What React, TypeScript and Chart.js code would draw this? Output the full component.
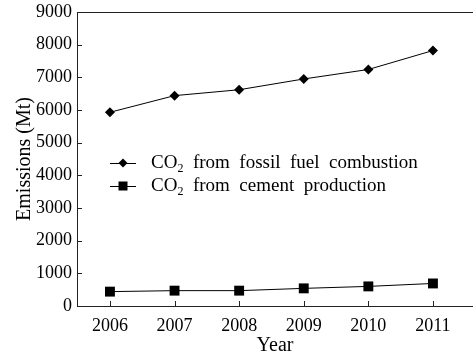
import React, { useEffect, useRef } from 'react';
import { Chart, registerables } from 'chart.js';

Chart.register(...registerables);

const years = [2006, 2007, 2008, 2009, 2010, 2011];
const fossilFuel = [5930, 6440, 6620, 6950, 7240, 7820];
const cement = [440, 470, 470, 540, 600, 690];
const seriesLabels = ['CO2 from fossil fuel combustion', 'CO2 from cement production'];
const yTitle = 'Emissions (Mt)';
const xTitle = 'Year';
const yMin = 0;
const yMax = 9000;
const yStep = 1000;

const FONT = "'Liberation Serif', 'Times New Roman', serif";
const AXIS = '#222222';
const INK = '#000000';

const framePlugin = {
  id: 'frameTicks',
  afterDatasetsDraw(chart: any) {
    const { ctx, chartArea, scales } = chart;
    const xs = scales.x;
    const ys = scales.y;
    ctx.save();
    ctx.strokeStyle = AXIS;
    ctx.lineWidth = 1;
    ctx.beginPath();
    const top = Math.round(chartArea.top) + 0.5;
    ctx.moveTo(chartArea.left, top);
    ctx.lineTo(chartArea.right, top);
    ys.ticks.forEach((t: any) => {
      if (t.value === yMin || t.value === yMax) return;
      const y = Math.round(ys.getPixelForValue(t.value)) + 0.5;
      ctx.moveTo(chartArea.left, y);
      ctx.lineTo(chartArea.left + 5, y);
    });
    years.forEach((v) => {
      const x = Math.round(xs.getPixelForValue(v)) + 0.5;
      ctx.moveTo(x, chartArea.bottom);
      ctx.lineTo(x, chartArea.bottom - 5);
    });
    ctx.stroke();
    ctx.restore();
  },
};

const legendPlugin = {
  id: 'innerLegend',
  afterDraw(chart: any) {
    const { ctx } = chart;
    const x0 = 110;
    const x1 = 136;
    const tx = 151;
    const rows = [163, 186];
    ctx.save();
    chart.data.datasets.forEach((ds: any, i: number) => {
      const y = rows[i];
      ctx.strokeStyle = INK;
      ctx.lineWidth = 1;
      ctx.beginPath();
      ctx.moveTo(x0, y + 0.5);
      ctx.lineTo(x1, y + 0.5);
      ctx.stroke();
      ctx.fillStyle = INK;
      const cx = (x0 + x1) / 2;
      ctx.beginPath();
      if (ds.pointStyle === 'rectRot') {
        const r = 4.5;
        ctx.moveTo(cx, y - r);
        ctx.lineTo(cx + r, y);
        ctx.lineTo(cx, y + r);
        ctx.lineTo(cx - r, y);
        ctx.closePath();
      } else {
        const s = 4.5;
        ctx.rect(cx - s, y - s, 2 * s, 2 * s);
      }
      ctx.fill();
      const label: string = ds.label;
      const main = label.replace(/^CO2/, '');
      ctx.textBaseline = 'middle';
      ctx.textAlign = 'left';
      ctx.font = `19px ${FONT}`;
      let x = tx;
      ctx.fillText('CO', x, y);
      x += ctx.measureText('CO').width;
      ctx.font = `12px ${FONT}`;
      ctx.fillText('2', x, y + 6);
      x += ctx.measureText('2').width;
      ctx.font = `19px ${FONT}`;
      const rest = main.split(' ').join('  ');
      ctx.fillText(rest, x, y);
    });
    ctx.restore();
  },
};

export default function App() {
  const ref = useRef<HTMLCanvasElement | null>(null);

  useEffect(() => {
    if (!ref.current) return;
    const chart = new Chart(ref.current, {
      type: 'line',
      data: {
        datasets: [
          {
            label: seriesLabels[0],
            data: years.map((yr, i) => ({ x: yr, y: fossilFuel[i] })),
            borderColor: INK,
            backgroundColor: INK,
            borderWidth: 1,
            pointStyle: 'rectRot',
            pointRadius: 5,
            pointBorderWidth: 0,
            pointBackgroundColor: INK,
            tension: 0,
          },
          {
            label: seriesLabels[1],
            data: years.map((yr, i) => ({ x: yr, y: cement[i] })),
            borderColor: INK,
            backgroundColor: INK,
            borderWidth: 1,
            pointStyle: 'rect',
            pointRadius: 7,
            pointBorderWidth: 0,
            pointBackgroundColor: INK,
            tension: 0,
          },
        ],
      },
      options: {
        responsive: false,
        animation: false,
        devicePixelRatio: 1,
        layout: { autoPadding: false, padding: { top: 12, left: 0, right: 0, bottom: 0 } },
        plugins: {
          legend: { display: false },
          tooltip: { enabled: false },
        },
        scales: {
          x: {
            type: 'linear',
            min: 2005.49,
            max: 2011.62,
            afterBuildTicks: (s: any) => {
              s.ticks = years.map((v) => ({ value: v }));
            },
            afterFit: (s: any) => {
              s.height = 50;
              s.paddingLeft = 0;
              s.paddingRight = 0;
            },
            grid: { display: false, drawTicks: false },
            border: { display: true, color: AXIS, width: 1 },
            ticks: {
              autoSkip: false,
              maxRotation: 0,
              padding: 9,
              color: INK,
              font: { family: FONT, size: 18 },
              callback: (v: any) => String(v),
            },
            title: {
              display: true,
              text: xTitle,
              color: INK,
              font: { family: FONT, size: 20 },
              padding: { top: 0, bottom: -1.5 },
            },
          },
          y: {
            min: yMin,
            max: yMax,
            afterFit: (s: any) => {
              s.width = 77;
              s.paddingTop = 0;
              s.paddingBottom = 0;
            },
            grid: { display: false, drawTicks: false },
            border: { display: true, color: AXIS, width: 1 },
            ticks: {
              stepSize: yStep,
              autoSkip: false,
              padding: 5,
              color: INK,
              font: { family: FONT, size: 18 },
              callback: (v: any) => String(v),
            },
            title: {
              display: true,
              text: yTitle,
              color: INK,
              font: { family: FONT, size: 20 },
              padding: { top: 12.5, bottom: 0 },
            },
          },
        },
      },
      plugins: [framePlugin, legendPlugin],
    } as any);
    return () => chart.destroy();
  }, []);

  return (
    <div style={{ position: 'absolute', left: 0, top: 0, width: 473, height: 356, background: '#fff' }}>
      <canvas ref={ref} width={473} height={356} style={{ width: 473, height: 356, display: 'block' }} />
    </div>
  );
}
